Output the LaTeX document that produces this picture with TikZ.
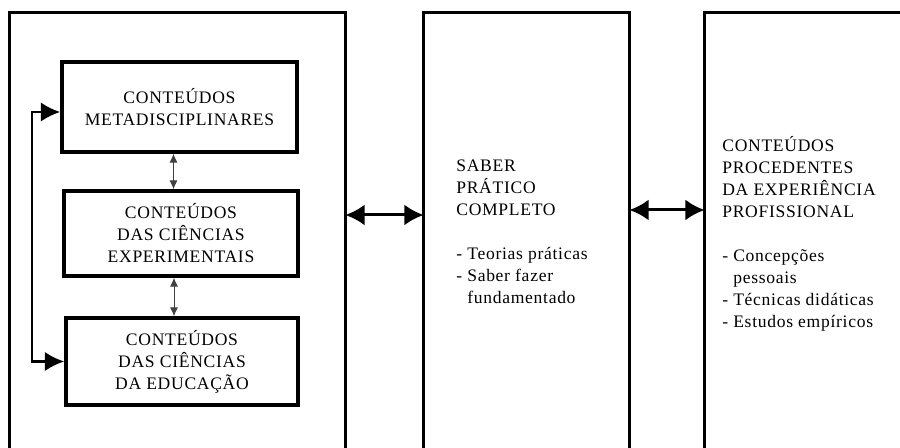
\documentclass[tikz,border=0pt]{standalone}
\usepackage{fontspec}
\setmainfont[LetterSpace=4]{Liberation Serif}
\usetikzlibrary{arrows.meta}

\begin{document}
\begin{tikzpicture}[x=0.02cm,y=-0.02cm,line join=miter,
    panel/.style={minimum height=8.7cm,inner sep=0pt},
    inbox/.style={draw,line width=2pt,align=center,inner sep=0pt,
      minimum width=4.68cm,minimum height=1.74cm,font=\fontsize{10}{12.5}\selectfont},
    txt/.style={align=left,inner sep=0pt,anchor=north west,font=\fontsize{10}{12.5}\selectfont},
    big/.style={{Latex[length=11pt,width=12pt]}-{Latex[length=11pt,width=12pt]},line width=1.7pt},
    thinarr/.style={{Latex[length=5pt,width=4.5pt]}-{Latex[length=5pt,width=4.5pt]},line width=0.5pt,draw=black!75},
    loop/.style={{Latex[length=11pt,width=11pt]}-{Latex[length=11pt,width=11pt]},line width=1.6pt}]
  \useasboundingbox (0,0) rectangle (900,448);

  % three panels, open at the bottom
  \node[panel,minimum width=6.7cm] (know) at (177.5,230.5) {};
  \node[panel,minimum width=4.1cm] (prac) at (526.5,230.5) {};
  \node[panel,minimum width=4cm] (prof) at (805,230.5) {};
  \draw[line width=1.6pt] (know.south west) |- (know.north east) -- (know.south east);
  \draw[line width=1.6pt] (prac.south west) |- (prac.north east) -- (prac.south east);
  \draw[line width=1.6pt] (prof.south west) |- (prof.north east);

  % inner boxes
  \node[inbox,minimum width=4.7cm,minimum height=1.8cm] (meta) at (179.5,107) {CONTEÚDOS\\METADISCIPLINARES};
  \node[inbox,minimum height=1.7cm] (exp) at (181,233.5) {CONTEÚDOS\\DAS CIÊNCIAS\\EXPERIMENTAIS};
  \node[inbox,minimum width=4.64cm] (edu) at (182,361.5) {CONTEÚDOS\\DAS CIÊNCIAS\\DA EDUCAÇÃO};

  \draw[thinarr] ([xshift=-0.12cm]meta.south) -- ([xshift=-0.12cm]meta.south |- exp.north);
  \draw[thinarr] ([xshift=-0.14cm]exp.south) -- ([xshift=-0.14cm]exp.south |- edu.north);

  \coordinate (bend) at (32,240);
  \draw[loop] ([yshift=-0.1cm]meta.west) -| (bend) |- (edu.west);

  % texts of the two other panels
  \node[txt] (ptext) at (456,160) {SABER\\PRÁTICO\\COMPLETO\\[\baselineskip]
    - Teorias práticas\\- Saber fazer\\\phantom{- }fundamentado};
  \node[txt] (ftext) at (722,136) {CONTEÚDOS\\PROCEDENTES\\DA EXPERIÊNCIA\\PROFISSIONAL\\[\baselineskip]
    - Concepções\\\phantom{- }pessoais\\- Técnicas didáticas\\- Estudos empíricos};

  % links between panels
  \coordinate (row1) at (0,215);
  \coordinate (row2) at (0,210);
  \draw[big] (know.east |- row1) -- (prac.west |- row1);
  \draw[big] (prac.east |- row2) -- (prof.west |- row2);
\end{tikzpicture}
\end{document}
